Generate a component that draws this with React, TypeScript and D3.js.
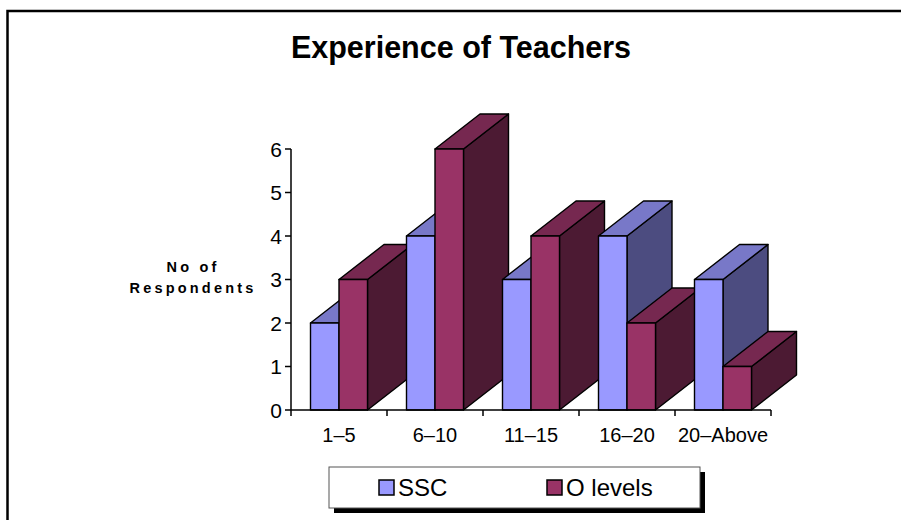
import React from "react";
import * as d3 from "d3";

const categories = ["1–5", "6–10", "11–15", "16–20", "20–Above"];
const seriesNames = ["SSC", "O levels"];
const sscValues = [2, 4, 3, 4, 3];
const oLevelValues = [3, 6, 4, 2, 1];
const yTicks = [0, 1, 2, 3, 4, 5, 6];

// front / top / side shades for each series
const palette = [
    { front: "#9999FF", top: "#7878C8", side: "#4C4C80" },
    { front: "#993366", top: "#762850", side: "#4C1A33" },
];

const W = 901;
const H = 520;
const DX = 45; // depth offset of the 3d columns
const DY = -35;

const App = () => {
    const x = d3
        .scaleBand<string>()
        .domain(categories)
        .range([291, 771]);
    const inner = d3
        .scaleBand<string>()
        .domain(seriesNames)
        .range([0, 57]);
    const y = d3.scaleLinear().domain([0, 6]).range([410, 149]);

    const values = [sscValues, oLevelValues];
    const font = "Arial, 'Liberation Sans', sans-serif";

    // one 3d column: front, top and right faces
    const column = (cat: string, si: number, v: number) => {
        const x0 = x(cat)! + x.bandwidth() / 2 - 28.5 + inner(seriesNames[si])!;
        const x1 = x0 + inner.bandwidth();
        const y0 = y(0);
        const y1 = y(v);
        const c = palette[si];
        const pts = (p: number[][]) => p.map((d) => d.join(",")).join(" ");
        return (
            <g key={cat + si} stroke="#000" strokeWidth={1.4} strokeLinejoin="round">
                <polygon
                    points={pts([
                        [x1, y0],
                        [x1 + DX, y0 + DY],
                        [x1 + DX, y1 + DY],
                        [x1, y1],
                    ])}
                    fill={c.side}
                />
                <polygon
                    points={pts([
                        [x0, y1],
                        [x0 + DX, y1 + DY],
                        [x1 + DX, y1 + DY],
                        [x1, y1],
                    ])}
                    fill={c.top}
                />
                <rect x={x0} y={y1} width={x1 - x0} height={y0 - y1} fill={c.front} />
            </g>
        );
    };

    return (
        <svg
            width={W}
            height={H}
            style={{ position: "absolute", left: 0, top: 0, background: "#fff" }}
        >
            {/* chart frame */}
            <rect x={7.5} y={11} width={W + 20} height={H + 20} fill="none" stroke="#000" strokeWidth={2.5} />

            <text
                x={461}
                y={58}
                textAnchor="middle"
                fontFamily={font}
                fontWeight="bold"
                fontSize={30.5}
            >
                Experience of Teachers
            </text>

            {/* y axis title */}
            <text
                textAnchor="middle"
                fontFamily={font}
                fontWeight="bold"
                fontSize={14.5}
                letterSpacing={3.2}
            >
                <tspan x={193} y={272}>No of</tspan>
                <tspan x={193} y={293}>Respondents</tspan>
            </text>

            {/* bars, drawn left to right so later fronts cover earlier sides */}
            {categories.map((cat, i) => (
                <g key={cat}>
                    {values.map((vals, si) => column(cat, si, vals[i]))}
                </g>
            ))}

            {/* y axis */}
            <line x1={291} x2={291} y1={y(6)} y2={y(0)} stroke="#000" strokeWidth={1.5} />
            {yTicks.map((t) => (
                <g key={t}>
                    <line x1={285} x2={291} y1={y(t)} y2={y(t)} stroke="#000" strokeWidth={1.5} />
                    <text
                        x={282}
                        y={y(t)}
                        dy="0.36em"
                        textAnchor="end"
                        fontFamily={font}
                        fontSize={21}
                    >
                        {t}
                    </text>
                </g>
            ))}

            {/* x axis */}
            <line x1={291} x2={771} y1={y(0)} y2={y(0)} stroke="#000" strokeWidth={1.5} />
            {categories.map((cat) => (
                <line
                    key={cat}
                    x1={x(cat)! + x.bandwidth()}
                    x2={x(cat)! + x.bandwidth()}
                    y1={y(0)}
                    y2={y(0) + 6}
                    stroke="#000"
                    strokeWidth={1.5}
                />
            ))}
            <line x1={291} x2={291} y1={y(0)} y2={y(0) + 6} stroke="#000" strokeWidth={1.5} />
            {categories.map((cat) => (
                <text
                    key={cat}
                    x={x(cat)! + x.bandwidth() / 2}
                    y={442}
                    textAnchor="middle"
                    fontFamily={font}
                    fontSize={20}
                >
                    {cat}
                </text>
            ))}

            {/* legend */}
            <rect x={334} y={472} width={371} height={41} fill="#000" />
            <rect x={329} y={467} width={371} height={41} fill="#fff" stroke="#555" strokeWidth={1} />
            {seriesNames.map((s, si) => {
                const lx = si === 0 ? 379 : 547;
                return (
                    <g key={s}>
                        <rect x={lx} y={480} width={15} height={15} fill={palette[si].front} stroke="#000" strokeWidth={1.5} />
                        <text x={lx + 19} y={496} fontFamily={font} fontSize={24}>
                            {s}
                        </text>
                    </g>
                );
            })}
        </svg>
    );
};

export default App;
